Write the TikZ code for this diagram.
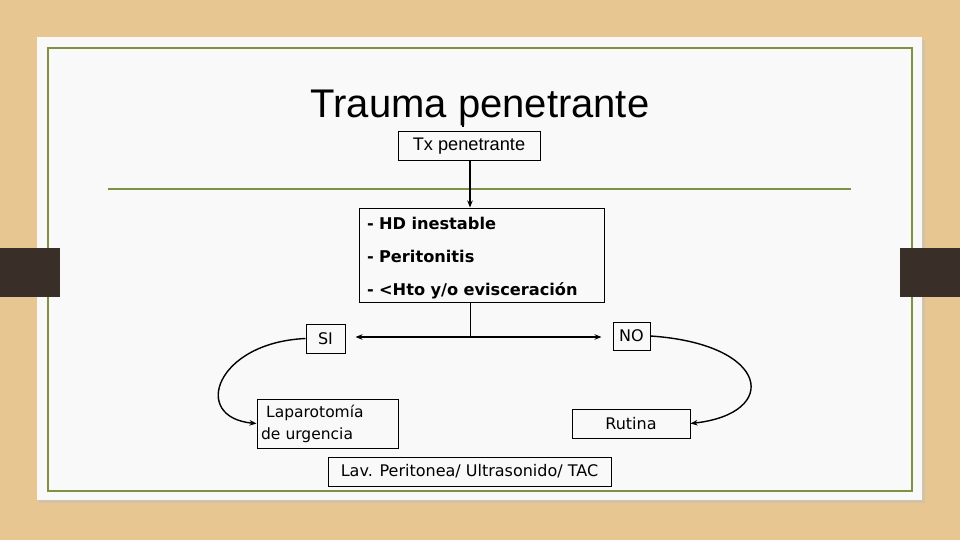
\documentclass[tikz,border=0pt]{standalone}
\usepackage{fontspec}
\setmainfont{Liberation Sans}
\newfontfamily\verdfont{DejaVu Sans}
\usetikzlibrary{arrows.meta}
\definecolor{wood}{RGB}{231,198,146}
\definecolor{card}{RGB}{249,249,249}
\definecolor{olivegreen}{RGB}{126,146,66}
\definecolor{tabbrown}{RGB}{58,46,40}

\begin{document}
\begin{tikzpicture}[
    x=1pt, y=-1pt,
    >={Stealth[length=7pt,width=5.5pt]},
    box/.style={draw=black, line width=1pt, inner sep=0pt, minimum height=29,
                align=center, font=\verdfont\fontsize{16}{19}\selectfont},
    crit/.style={box, align=left, font=\verdfont\bfseries\fontsize{16.2}{33}\selectfont},
    link/.style={draw=black, line width=1.4pt},
  ]
    % slide background
    \useasboundingbox (0,0) rectangle (960,540);
    \fill[wood] (0,0) rectangle (960,540);
    \fill[black!25, opacity=0.5] (39,40) rectangle (925,503);
    \fill[card] (37,37) rectangle (922,500);
    \draw[olivegreen, line width=2pt] (48,48) rectangle (912,491);
    \draw[olivegreen, line width=2pt] (108,189) -- (851,189);
    \fill[tabbrown] (0,248) rectangle (60,297);
    \fill[tabbrown] (900,248) rectangle (960,297);

    \node[font=\fontsize{40}{44}\selectfont] (title) at (480,108) {Trauma penetrante};

    \node[box, minimum width=142, font=\fontsize{18.2}{20}\selectfont] (tx) at (469,146.5) {Tx penetrante};
    \node[crit, minimum width=245, minimum height=94, text width=229] (hd) at (481.5,255)
      {\rule{0pt}{18.5pt}- HD inestable\\- Peritonitis\\- <Hto y/o evisceración};
    \node[box, minimum width=39] (si) at (325.5,338.5) {SI};
    \node[box, minimum width=37, minimum height=28] (no) at (631.5,336) {NO};
    \node[box, minimum width=141, minimum height=49, text width=133, align=left,
          font=\verdfont\fontsize{15.5}{22}\selectfont] (lap) at (327.5,423.5)
      {\ Laparotomía\\de urgencia};
    \node[box, minimum width=118] (rut) at (631,423.5) {Rutina};
    \node[box, minimum width=283] (lav) at (469.5,471.5) {Lav. Peritonea/ Ultrasonido/ TAC};

    \coordinate (split) at (470,337);

    \draw[line width=1.6pt] ([xshift=-6pt]tx.north) ++(0,-4) -- ++(0,-8);
    \draw[link, ->] (tx.south -| split) -- (hd.north -| split);
    \draw[link, line width=1pt] (hd.south -| split) -- (split);
    \draw[link, ->, shorten >=10pt] (split) -- (si.east |- split);
    \draw[link, ->, shorten >=11pt] (split) -- (no.west |- split);
    \draw[link, ->] (si.west) .. controls +(-90,4) and +(-66,-6) .. (lap.west);
    \draw[link, ->] (no.east) .. controls +(120,8) and +(90,-10) .. (rut.east);
  \end{tikzpicture}
\end{document}
